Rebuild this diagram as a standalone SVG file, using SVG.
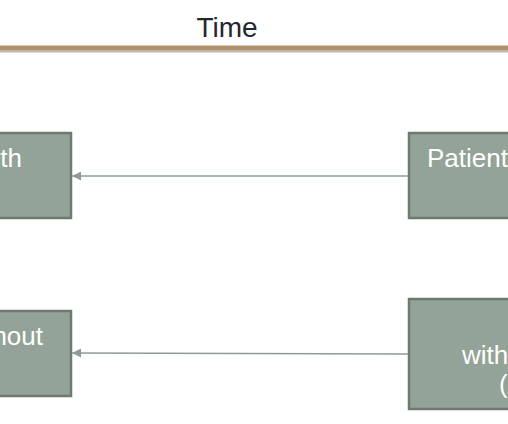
<svg xmlns="http://www.w3.org/2000/svg" width="508" height="424" viewBox="0 0 508 424">
<defs>
<style>
.box{fill:#93a397;stroke:#6e7a71;stroke-width:2.5}
.lbl{font-family:"Liberation Sans",Arial,sans-serif;font-size:26px;fill:#ffffff}
.conn{stroke:#8c9c93;stroke-width:1.5;fill:none}
</style>
<marker id="arr" viewBox="0 0 10 10" refX="10" refY="5" markerWidth="10" markerHeight="9" markerUnits="userSpaceOnUse" orient="auto">
<path d="M0,0 L10,5 L0,10 Z" fill="#8c9c93"/>
</marker>
</defs>
<rect width="508" height="424" fill="#ffffff"/>
<g id="timeline">
<text x="227" y="37" text-anchor="middle" font-family="Liberation Sans,Arial,sans-serif" font-size="28" fill="#26262e">Time</text>
<line x1="0" y1="51.5" x2="508" y2="51.5" stroke="#b8b8b8" stroke-width="2"/>
<line x1="0" y1="48" x2="508" y2="48" stroke="#b0926a" stroke-width="5"/>
</g>
<g id="node-left-top">
<rect class="box" x="-30" y="133" width="101" height="85"/>
<text class="lbl" x="22" y="167" text-anchor="end">th</text>
</g>
<g id="node-right-top">
<rect class="box" x="409" y="133" width="130" height="85"/>
<text class="lbl" x="427" y="167">Patient</text>
</g>
<g id="node-left-bottom">
<rect class="box" x="-30" y="311" width="101" height="85"/>
<text class="lbl" x="43" y="345" text-anchor="end">hout</text>
</g>
<g id="node-right-bottom">
<rect class="box" x="409" y="299" width="130" height="110"/>
<text class="lbl" x="462" y="364">with</text>
<text class="lbl" x="499" y="393">(</text>
</g>
<g id="connectors">
<line class="conn" x1="408" y1="176" x2="72" y2="176" marker-end="url(#arr)"/>
<line class="conn" x1="408" y1="354" x2="72" y2="353" marker-end="url(#arr)"/>
</g>
</svg>
